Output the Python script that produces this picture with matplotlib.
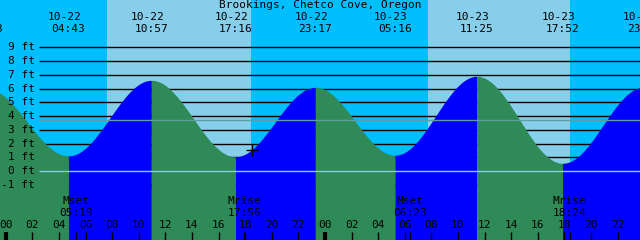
import numpy as np
import matplotlib
matplotlib.use("Agg")
import matplotlib.pyplot as plt
from matplotlib.transforms import blended_transform_factory

# hours after 10-22 00:00 local
event_hours = [-1.45, 4.717, 10.95, 17.267, 23.283, 29.267, 35.417, 41.867, 47.97]
event_heights = [6.0, 1.1, 6.6, 1.04, 6.09, 1.15, 6.89, 0.56, 6.1]
event_dates = ["10-21", "10-22", "10-22", "10-22", "10-22", "10-23", "10-23", "10-23", "10-23"]
event_times = ["22:33", "04:43", "10:57", "17:16", "23:17", "05:16", "11:25", "17:52", "23:58"]

day_spans = [(7.62, 18.44), (31.72, 42.43)]
moon_hours = [5.317, 17.933, 30.383, 42.4]
moon_names = ["Mset", "Mrise", "Mset", "Mrise"]
moon_times = ["05:19", "17:56", "06:23", "18:24"]
now_hour = 18.5
level_ticks = [9, 8, 7, 6, 5, 4, 3, 2, 1, 0, -1]
msl = 3.69
title = "Brookings, Chetco Cove, Oregon"

# pixel layout: x_px = 5.7 + 13.3 * hour, y_px = 171 - 13.74 * ft
px_per_h = 13.3
x0 = 5.7
px_per_ft = 13.74
y0 = 171.0
W, H = 640, 240

def hx(px):
    return (px - x0) / px_per_h

def fy(py):
    return (y0 - py) / px_per_ft

night = "#00BFFF"
day = "#87CEEB"
rise_c = "#0000FF"
fall_c = "#2E8B57"
font = dict(family="DejaVu Sans Mono", fontsize=8)

fig = plt.figure(figsize=(6.4, 2.4), dpi=100)
ax = fig.add_axes([0, 0, 1, 1])
xmin, xmax = hx(0), hx(W)
ymin, ymax = fy(H), fy(0)
ax.set_xlim(xmin, xmax)
ax.set_ylim(ymin, ymax)
ax.axis("off")

ax.axvspan(xmin, xmax, color=night, lw=0, zorder=0)
for a, b in day_spans:
    ax.axvspan(a, b, color=day, lw=0, zorder=0)

# level lines behind the water
ax.hlines(level_ticks, hx(39), xmax, color="black", lw=1, zorder=1)

# tide curve, cosine between extremes
for i in range(len(event_hours) - 1):
    t0, t1 = event_hours[i], event_hours[i + 1]
    h0, h1 = event_heights[i], event_heights[i + 1]
    t = np.linspace(t0, t1, 200)
    h = h0 + (h1 - h0) * (1 - np.cos(np.pi * (t - t0) / (t1 - t0))) / 2
    c = rise_c if h1 > h0 else fall_c
    ax.fill_between(t, ymin, h, color=c, lw=0, zorder=2)

ax.hlines(0, hx(39), xmax, color=day, lw=1, zorder=3)
ax.hlines(msl, hx(39), xmax, color="#5F9EA0", lw=1, zorder=3)

for lv in level_ticks:
    ax.text(hx(35), lv, f"{lv} ft", ha="right", va="center", zorder=5, **font)

tr = blended_transform_factory(ax.transData, ax.transAxes)
def ay(py):
    return 1 - py / H

ax.text(0.5, ay(5.5), title, transform=ax.transAxes, ha="center", va="center", zorder=5, **font)
for t, d, s in zip(event_hours, event_dates, event_times):
    ax.text(t - 4 / px_per_h, ay(17.3), d, transform=tr, ha="center", va="center", zorder=5, **font)
    ax.text(t, ay(29.5), s, transform=tr, ha="center", va="center", zorder=5, **font)

# hour ticks
for hr in range(0, 48, 2):
    ax.text(hr, ay(225), f"{hr % 24:02d}", transform=tr, ha="center", va="center", zorder=5, **font)
    lw = 3 if hr % 24 == 0 else 1
    ax.plot([hr, hr], [ay(232), ay(240)], transform=tr, color="black", lw=lw,
            solid_capstyle="butt", zorder=5)

for t, n, s in zip(moon_hours, moon_names, moon_times):
    ax.text(t, ay(201.5), n, transform=tr, ha="center", va="center", zorder=5, **font)
    ax.text(t, ay(213), s, transform=tr, ha="center", va="center", zorder=5, **font)
    ax.plot([t, t], [ay(232), ay(240)], transform=tr, color="black", lw=1,
            solid_capstyle="butt", zorder=5)

# current time marker
i = 3
t0, t1 = event_hours[i], event_hours[i + 1]
h0, h1 = event_heights[i], event_heights[i + 1]
now_h = h0 + (h1 - h0) * (1 - np.cos(np.pi * (now_hour - t0) / (t1 - t0))) / 2
ax.plot(now_hour, now_h, marker="+", color="black", ms=8, mew=1, zorder=6)

fig.savefig("out.png", dpi=100)
